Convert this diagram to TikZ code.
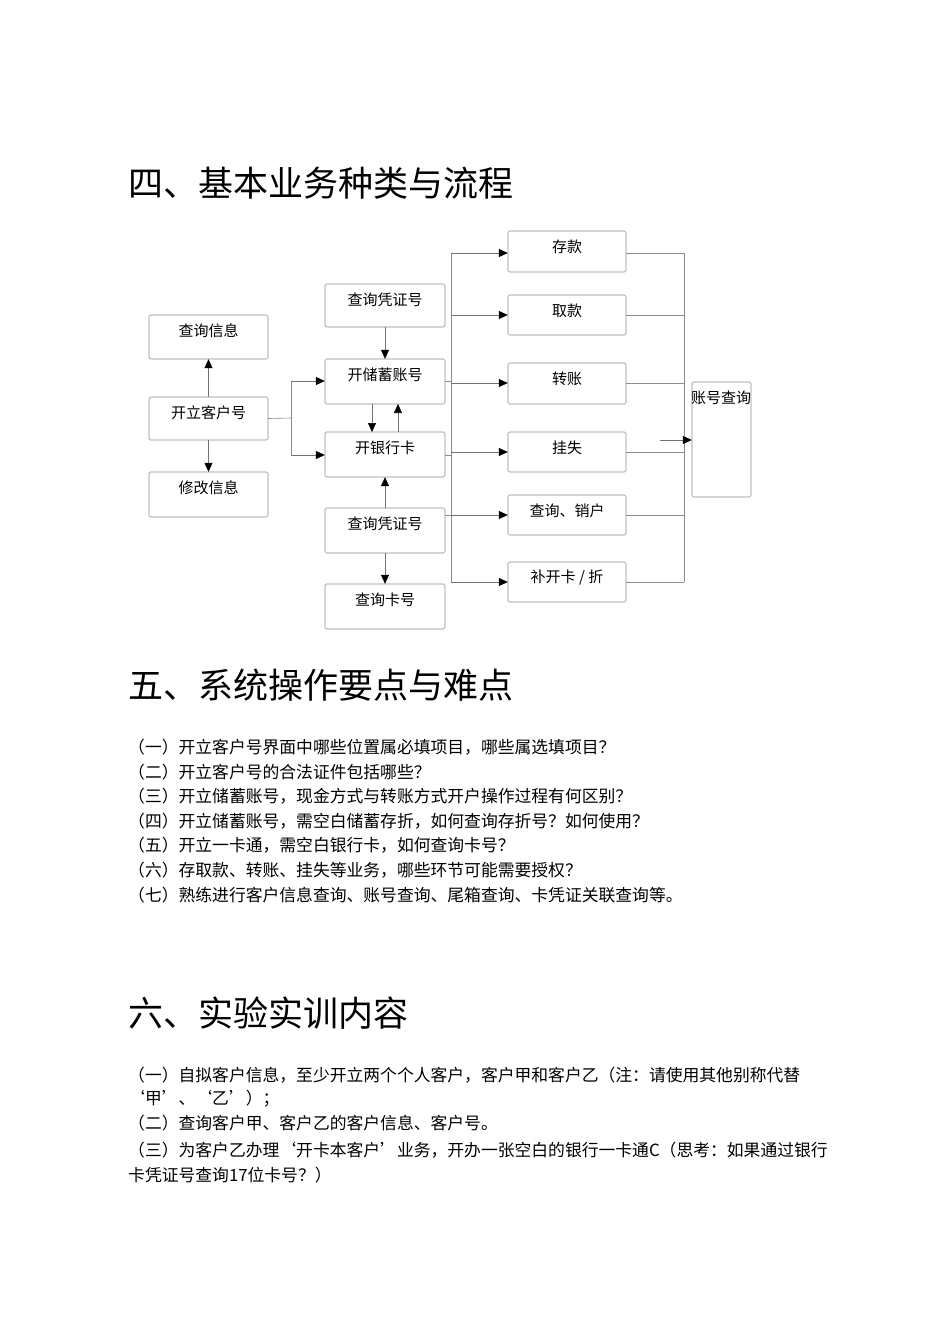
\documentclass[tikz,border=0pt]{standalone}
\usepackage{fontspec}
\setmainfont{Noto Sans CJK SC}
\usetikzlibrary{arrows.meta}
\begin{document}
\begin{tikzpicture}[x=1pt,y=-1pt,
  bx/.style={draw=black!45,rounded corners=1.5pt,line width=0.6pt},
  lbl/.style={font=\fontsize{15}{15}\selectfont,inner sep=0pt},
  ln/.style={draw=black!45,line width=0.6pt},
  ar/.style={draw=black!55,line width=0.6pt,-{Triangle[length=9pt,width=8pt,color=black]}},
  hd/.style={font=\fontsize{35}{35}\selectfont,anchor=west,inner sep=0pt},
  tx/.style={font=\fontsize{16.8}{16.8}\selectfont,anchor=west,inner sep=0pt}]
\useasboundingbox (0,0) rectangle (950,1344);
\fill[white] (0,0) rectangle (950,1344);
\newcommand{\mybox}[6]{% name x1 y1 x2 y2 text
  \draw[bx] (#2,#3) rectangle (#4,#5);
  \node[inner sep=0pt] (#1) at ({(#2+#4)/2},{(#3+#5)/2}) [minimum width={#4-#2},minimum height={#5-#3}] {};
  \node[lbl] at ({(#2+#4)/2},#3+16) {#6};}
\node[hd] (h4) at (128,183) {四、基本业务种类与流程};
\mybox{qi}{149}{315}{268}{359}{查询信息}
\mybox{kk}{149}{397}{268}{440}{开立客户号}
\mybox{xg}{149}{472}{268}{517}{修改信息}
\mybox{pz1}{325}{284}{445}{327}{查询凭证号}
\mybox{cx}{325}{359}{445}{404}{开储蓄账号}
\mybox{yh}{325}{432}{445}{477}{开银行卡}
\mybox{pz2}{325}{508}{445}{553}{查询凭证号}
\mybox{kh}{325}{584}{445}{629}{查询卡号}
\mybox{ck}{508}{231}{626}{272}{存款}
\mybox{qk}{508}{295}{626}{335}{取款}
\mybox{zz}{508}{363}{626}{404}{转账}
\mybox{gs}{508}{432}{626}{472}{挂失}
\mybox{xh}{508}{495}{626}{535}{查询、销户}
\mybox{bk}{508}{562}{626}{602}{补开卡 / 折}
\draw[bx] (692,382) rectangle (751,497);
\node (zh) at (721.5,439.5) [minimum width=59,minimum height=115,inner sep=0pt] {};
\node[lbl] at (721,398) {账号查询};
% left
\draw[ar] (kk.north) -- (qi.south);
\draw[ar] (kk.south) -- (xg.north);
\coordinate (j1) at (291,418);
\draw[ln] (kk.east) -- (j1);
\draw[ln] (291,381) -- (291,455);
\draw[ar] (291,381) -- (cx.west |- 0,381);
\draw[ar] (291,455) -- (yh.west |- 0,455);
\draw[ar] (pz1.south) -- (cx.north);
\draw[ar] (372,404) -- (372,432);
\draw[ar] (398,432) -- (398,404);
\draw[ar] (pz2.north) -- (yh.south);
\draw[ar] (pz2.south) -- (kh.north);
% middle trunk
\draw[ln] (451,253) -- (451,582);
\draw[ln] (cx.east |- 0,381) -- (451,381);
\draw[ln] (yh.east |- 0,455) -- (451,455);
\draw[ln] (pz2.east |- 0,515) -- (451,515);
\draw[ar] (451,253) -- (ck.west |- 0,253);
\draw[ar] (451,315) -- (qk.west |- 0,315);
\draw[ar] (451,383) -- (zz.west |- 0,383);
\draw[ar] (451,452) -- (gs.west |- 0,452);
\draw[ar] (451,515) -- (xh.west |- 0,515);
\draw[ar] (451,582) -- (bk.west |- 0,582);
% right trunk
\draw[ln] (684,253) -- (684,582);
\foreach \n/\y in {ck/253,qk/315,zz/383,gs/452,xh/515,bk/582}{\draw[ln] (\n.east |- 0,\y) -- (684,\y);}
\draw[ar] (660,440) -- (zh.west |- 0,440);
% section 5
\node[hd] (h5) at (128,685) {五、系统操作要点与难点};
\node[tx] at (128,747) {（一）开立客户号界面中哪些位置属必填项目，哪些属选填项目？};
\node[tx] at (128,772) {（二）开立客户号的合法证件包括哪些？};
\node[tx] at (128,796) {（三）开立储蓄账号，现金方式与转账方式开户操作过程有何区别？};
\node[tx] at (128,821) {（四）开立储蓄账号，需空白储蓄存折，如何查询存折号？如何使用？};
\node[tx] at (128,845) {（五）开立一卡通，需空白银行卡，如何查询卡号？};
\node[tx] at (128,870) {（六）存取款、转账、挂失等业务，哪些环节可能需要授权？};
\node[tx] at (128,895) {（七）熟练进行客户信息查询、账号查询、尾箱查询、卡凭证关联查询等。};
% section 6
\node[hd] (h6) at (128,1013) {六、实验实训内容};
\node[tx] at (128,1075) {（一）自拟客户信息，至少开立两个个人客户，客户甲和客户乙（注：请使用其他别称代替};
\node[tx] at (128,1099) {‘甲’、‘乙’）；};
\node[tx] at (128,1123) {（二）查询客户甲、客户乙的客户信息、客户号。};
\node[tx] at (128,1150) {（三）为客户乙办理‘开卡本客户’业务，开办一张空白的银行一卡通C（思考：如果通过银行};
\node[tx] at (128,1175) {卡凭证号查询17位卡号？）};
\end{tikzpicture}
\end{document}
